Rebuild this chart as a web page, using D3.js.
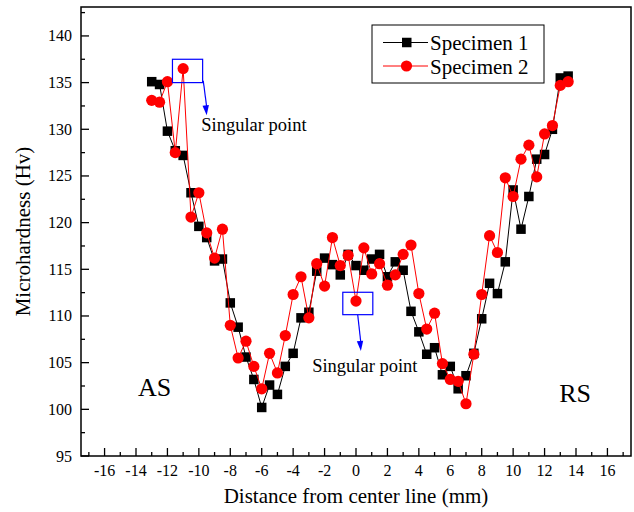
<!DOCTYPE html>
<html>
<head>
<meta charset="utf-8">
<script src="https://cdn.jsdelivr.net/npm/d3@7"></script>
<style>
  body { margin: 0; background: #fff; }
  svg { display: block; }
  text { font-family: "Liberation Serif", "DejaVu Serif", serif; }
</style>
</head>
<body>
<svg id="chart"></svg>
<script>
// distance from center line (mm), 0.5 mm steps
const distance = [-13, -12.5, -12, -11.5, -11, -10.5, -10, -9.5, -9, -8.5, -8, -7.5, -7, -6.5, -6, -5.5, -5, -4.5, -4, -3.5, -3, -2.5, -2, -1.5, -1, -0.5,
  0, 0.5, 1, 1.5, 2, 2.5, 3, 3.5, 4, 4.5, 5, 5.5, 6, 6.5, 7, 7.5, 8, 8.5, 9, 9.5, 10, 10.5, 11, 11.5, 12, 12.5, 13, 13.5];

const specimen1 = [135.1, 134.8, 129.8, 127.7, 127.2, 123.2, 119.6, 118.4, 115.9, 116.1, 111.4, 108.8, 105.6, 103.2, 100.2, 102.6, 101.6, 104.6, 106.0, 109.8, 110.4, 114.8, 116.2, 115.5, 114.4, 116.6,
  115.4, 114.9, 116.1, 116.6, 114.2, 115.8, 114.9, 110.5, 108.3, 105.9, 106.6, 103.7, 104.6, 102.2, 103.6, 106.0, 109.7, 113.5, 112.4, 115.8, 123.5, 119.3, 122.8, 126.8, 127.3, 130.0, 135.5, 135.7];

const specimen2 = [133.1, 132.9, 135.1, 127.5, 136.5, 120.6, 123.2, 118.9, 116.2, 119.3, 109.0, 105.5, 107.3, 104.6, 102.2, 106.0, 103.9, 107.9, 112.3, 114.2, 109.8, 115.6, 113.2, 118.4, 115.4, 116.5,
  111.6, 117.3, 114.5, 115.6, 113.3, 114.4, 116.6, 117.6, 112.4, 108.6, 110.3, 104.9, 103.2, 103.0, 100.6, 105.9, 112.3, 118.6, 116.8, 124.8, 122.8, 126.8, 128.3, 124.9, 129.5, 130.4, 134.7, 135.1];

const seriesNames = ["Specimen 1", "Specimen 2"];
const xTicks = [-16, -14, -12, -10, -8, -6, -4, -2, 0, 2, 4, 6, 8, 10, 12, 14, 16];
const yTicks = [95, 100, 105, 110, 115, 120, 125, 130, 135, 140];

const width = 634, height = 512;
const svg = d3.select("#chart").attr("width", width).attr("height", height)
  .attr("font-family", "Liberation Serif, serif");

// plot area (Origin style frame)
const plotL = 81, plotR = 631, plotT = 7, plotB = 456;

const x = d3.scaleLinear().domain([-17.5, 17.5]).range([plotL, plotR]);
const y = d3.scaleLinear().domain([95, 143.1]).range([plotB, plotT]);

const blue = "#0000ff";

// ticks - inward, majors labelled, minors in between
const xMinor = d3.range(-17, 18, 1).filter(v => v % 2 !== 0);
const yMinor = d3.range(97.5, 143, 5);

const axisG = svg.append("g").attr("stroke", "#000").attr("stroke-width", 1.3);

axisG.selectAll(".xmaj").data(xTicks).enter().append("line")
  .attr("x1", d => x(d)).attr("x2", d => x(d))
  .attr("y1", plotB).attr("y2", plotB - 8);
axisG.selectAll(".xmin").data(xMinor).enter().append("line")
  .attr("x1", d => x(d)).attr("x2", d => x(d))
  .attr("y1", plotB).attr("y2", plotB - 4);
axisG.selectAll(".ymaj").data(yTicks).enter().append("line")
  .attr("x1", plotL).attr("x2", plotL + 8)
  .attr("y1", d => y(d)).attr("y2", d => y(d));
axisG.selectAll(".ymin").data(yMinor).enter().append("line")
  .attr("x1", plotL).attr("x2", plotL + 4)
  .attr("y1", d => y(d)).attr("y2", d => y(d));

// frame
svg.append("rect")
  .attr("x", plotL).attr("y", plotT)
  .attr("width", plotR - plotL).attr("height", plotB - plotT)
  .attr("fill", "none").attr("stroke", "#000").attr("stroke-width", 1.5);

// tick labels
svg.append("g").selectAll("text").data(xTicks).enter().append("text")
  .attr("x", d => x(d)).attr("y", plotB + 20)
  .attr("text-anchor", "middle").attr("font-size", 16)
  .text(d => d);

svg.append("g").selectAll("text").data(yTicks).enter().append("text")
  .attr("x", plotL - 9).attr("y", d => y(d) + 5.5)
  .attr("text-anchor", "end").attr("font-size", 16)
  .text(d => d);

// axis titles
svg.append("text")
  .attr("x", x(0)).attr("y", 503)
  .attr("text-anchor", "middle").attr("font-size", 21)
  .text("Distance from center line (mm)");

svg.append("text")
  .attr("transform", `translate(30, ${(plotT + plotB) / 2}) rotate(-90)`)
  .attr("text-anchor", "middle").attr("font-size", 21)
  .text("Microhardness (Hv)");

// series
const pts1 = distance.map((d, i) => [d, specimen1[i]]);
const pts2 = distance.map((d, i) => [d, specimen2[i]]);
const line = d3.line().x(d => x(d[0])).y(d => y(d[1]));

svg.append("path").datum(pts1)
  .attr("d", line).attr("fill", "none").attr("stroke", "#000").attr("stroke-width", 1);
svg.append("g").selectAll("rect").data(pts1).enter().append("rect")
  .attr("x", d => x(d[0]) - 4.75).attr("y", d => y(d[1]) - 4.75)
  .attr("width", 9.5).attr("height", 9.5).attr("fill", "#000");

svg.append("path").datum(pts2)
  .attr("d", line).attr("fill", "none").attr("stroke", "#ff0000").attr("stroke-width", 1);
svg.append("g").selectAll("circle").data(pts2).enter().append("circle")
  .attr("cx", d => x(d[0])).attr("cy", d => y(d[1]))
  .attr("r", 5.6).attr("fill", "#ff0000");

// annotations: blue boxes + arrows
function arrow(x1, y1, x2, y2) {
  svg.append("line")
    .attr("x1", x1).attr("y1", y1).attr("x2", x2).attr("y2", y2 - 8)
    .attr("stroke", blue).attr("stroke-width", 1.2);
  const a = Math.atan2(y2 - y1, x2 - x1);
  const L = 10, W = 3.2;
  const bx = x2 - L * Math.cos(a), by = y2 - L * Math.sin(a);
  svg.append("polygon")
    .attr("points", [
      [x2, y2],
      [bx + W * Math.sin(a), by - W * Math.cos(a)],
      [bx - W * Math.sin(a), by + W * Math.cos(a)]
    ].map(p => p.join(",")).join(" "))
    .attr("fill", blue);
}

function box(x0, x1, y0, y1) {
  svg.append("rect")
    .attr("x", x(x0)).attr("y", y(y0))
    .attr("width", x(x1) - x(x0)).attr("height", y(y1) - y(y0))
    .attr("fill", "none").attr("stroke", blue).attr("stroke-width", 1.2);
}

box(-11.68, -9.76, 137.5, 135.0);
arrow(x(-9.72), y(135.2), x(-9.5), y(131.5));
box(-0.84, 1.07, 112.54, 110.14);
arrow(x(0.11), y(110.1), x(0.31), y(106.25));

svg.append("text").attr("x", x(-9.85)).attr("y", y(129.8))
  .attr("font-size", 18.5).text("Singular point");
svg.append("text").attr("x", x(-2.79)).attr("y", y(104.0))
  .attr("font-size", 18.5).text("Singular point");

svg.append("text").attr("x", x(-13.87)).attr("y", y(101.4))
  .attr("font-size", 26).text("AS");
svg.append("text").attr("x", x(12.93)).attr("y", y(100.8))
  .attr("font-size", 26).text("RS");

// legend
const legend = svg.append("g").attr("transform", "translate(372,25)");
legend.append("rect")
  .attr("width", 172).attr("height", 58)
  .attr("fill", "#fff").attr("stroke", "#000").attr("stroke-width", 1);

const legRows = legend.selectAll(".row").data(seriesNames).enter().append("g")
  .attr("transform", (d, i) => `translate(0, ${17.5 + i * 23.5})`);
legRows.append("line")
  .attr("x1", 11).attr("x2", 56)
  .attr("stroke", (d, i) => i === 0 ? "#000" : "#ff0000").attr("stroke-width", 1);
legRows.filter((d, i) => i === 0).append("rect")
  .attr("x", 30).attr("y", -4.75).attr("width", 9.5).attr("height", 9.5).attr("fill", "#000");
legRows.filter((d, i) => i === 1).append("circle")
  .attr("cx", 34.5).attr("r", 5.6).attr("fill", "#ff0000");
legRows.append("text")
  .attr("x", 58).attr("y", 7.5).attr("font-size", 21)
  .text(d => d);
</script>
</body>
</html>
